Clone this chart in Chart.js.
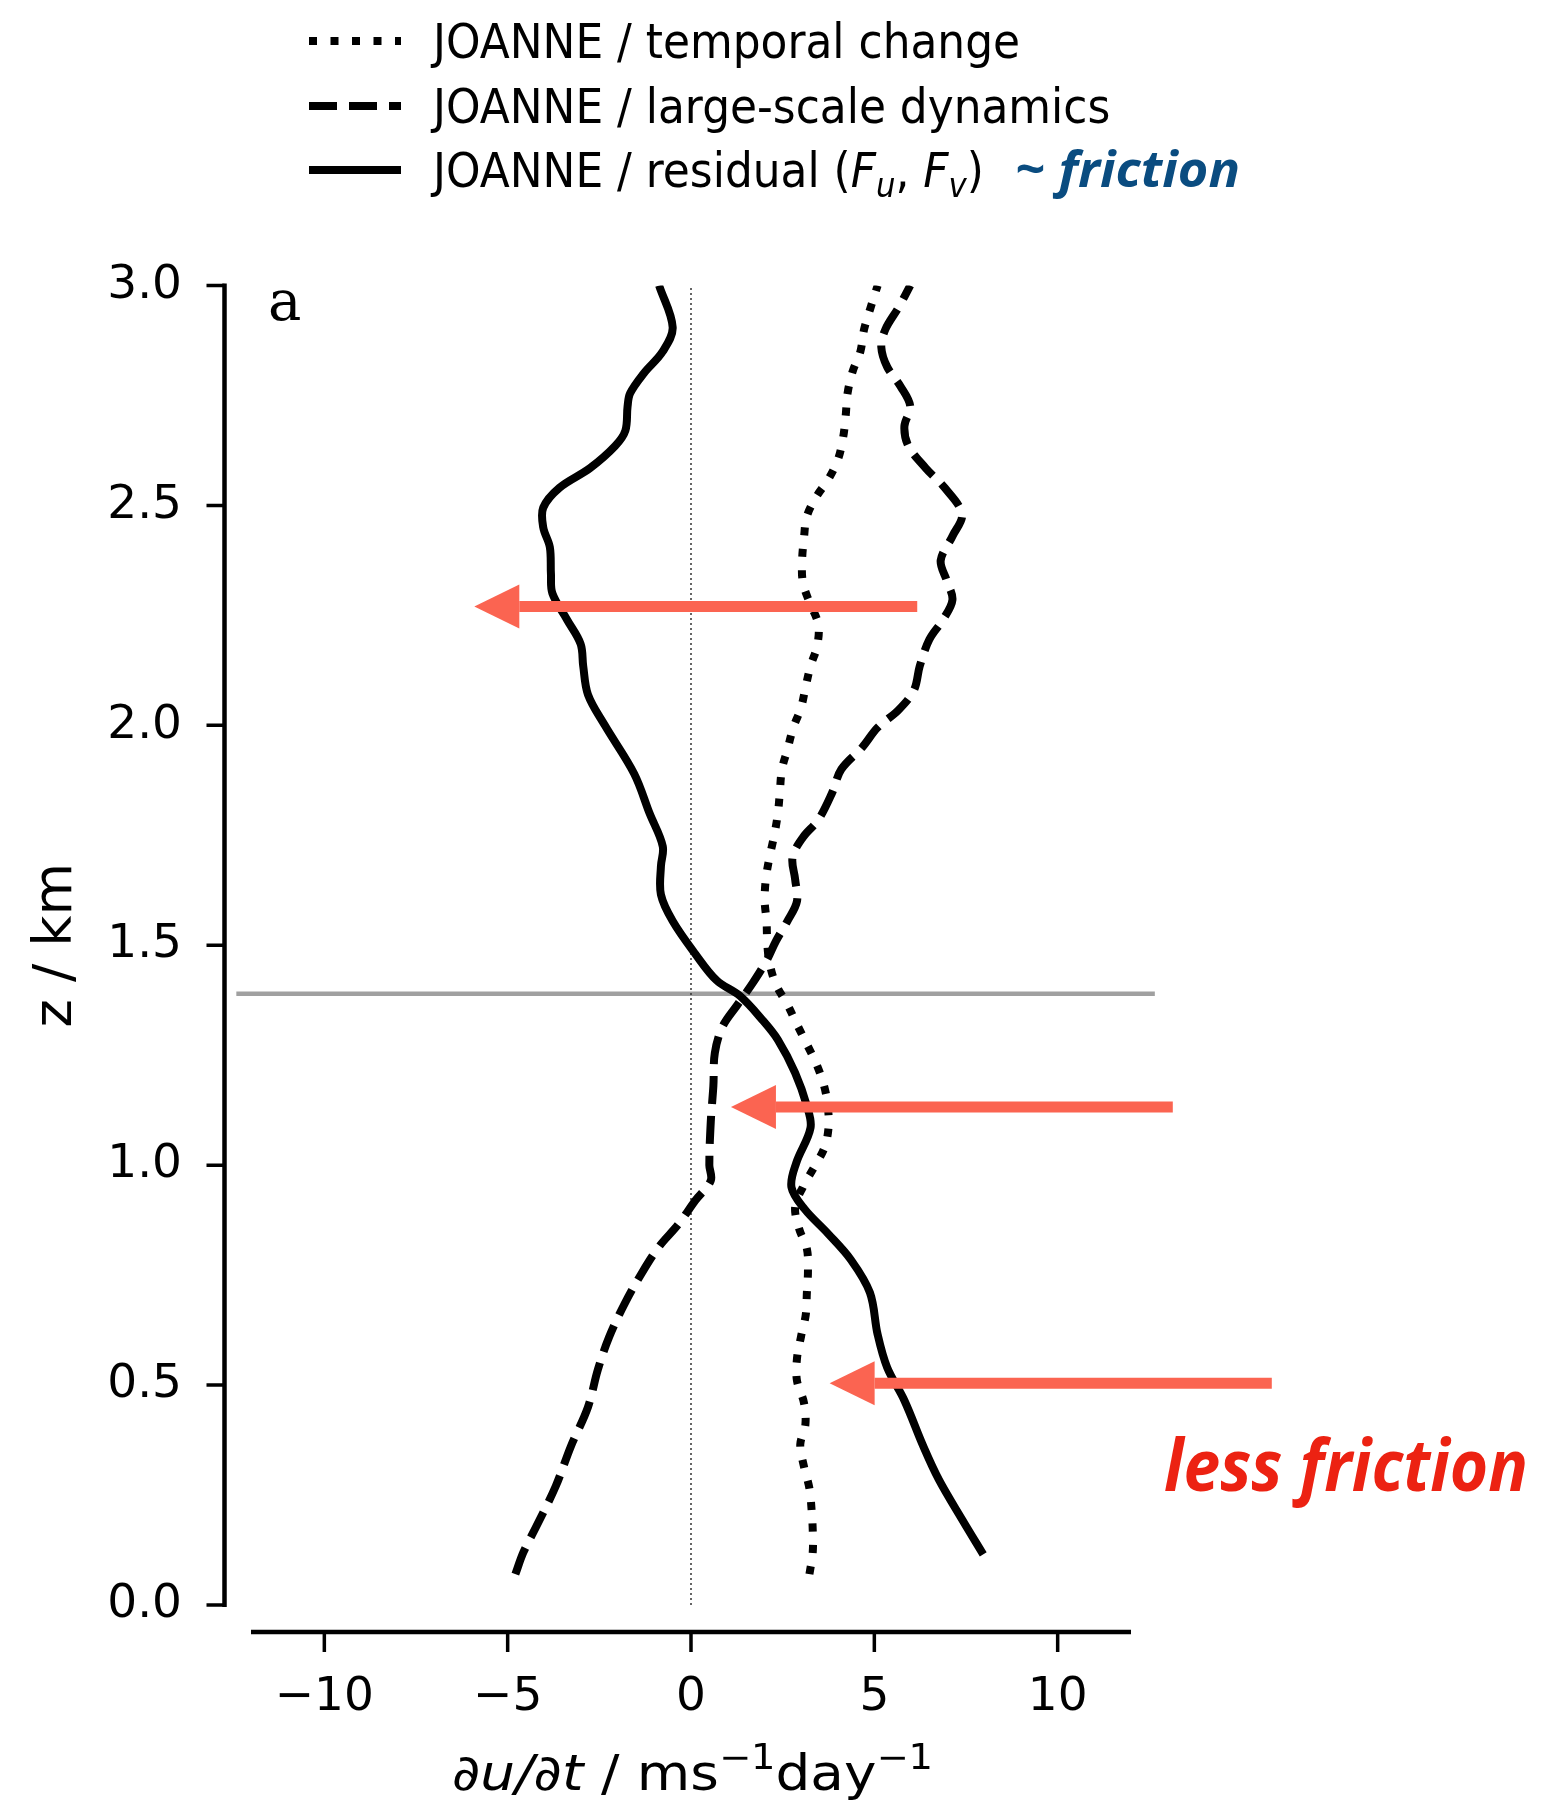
<!DOCTYPE html>
<html lang="en">
<head>
<meta charset="UTF-8">
<title>JOANNE momentum budget</title>
<script src="https://cdn.jsdelivr.net/npm/chart.js"></script>
<style>
  body { margin: 0; background: #ffffff; }
  .chart-box { position: relative; width: 1543px; height: 1804px; }
</style>
</head>
<body>
<div class="chart-box"><canvas id="budgetChart"></canvas></div>
<script>
// profiles, bottom to top: height z (km) and du/dt (m/s per day)
const zTemporal = [0.07, 0.12, 0.17, 0.215, 0.265, 0.315, 0.365, 0.41, 0.46, 0.51, 0.56, 0.61, 0.66, 0.71,
  0.76, 0.81, 0.855, 0.905, 0.95, 1.0, 1.04, 1.085, 1.135, 1.18, 1.23, 1.275, 1.32, 1.365, 1.41, 1.46, 1.505,
  1.555, 1.6, 1.65, 1.7, 1.75, 1.8, 1.845, 1.9, 1.945, 1.995, 2.04, 2.085, 2.135, 2.18, 2.23, 2.28, 2.325,
  2.375, 2.425, 2.475, 2.52, 2.56, 2.605, 2.655, 2.705, 2.755, 2.805, 2.85, 2.9, 2.945, 3.0];
const uTemporal = [3.23, 3.32, 3.32, 3.29, 3.23, 3.08, 2.98, 3.12, 3.08, 2.89, 2.89, 3.0, 3.13, 3.16,
  3.19, 3.16, 2.95, 2.84, 3.05, 3.39, 3.64, 3.75, 3.73, 3.63, 3.42, 3.16, 2.89, 2.63, 2.32, 2.14, 2.08,
  2.06, 2.01, 2.04, 2.14, 2.27, 2.37, 2.42, 2.48, 2.63, 2.79, 3.0, 3.12, 3.26, 3.44, 3.47, 3.23, 3.05,
  3.03, 3.08, 3.16, 3.42, 3.75, 4.01, 4.15, 4.22, 4.27, 4.41, 4.62, 4.72, 4.88, 5.09];

const zLargeScale = [0.07, 0.12, 0.18, 0.27, 0.36, 0.45, 0.535, 0.61, 0.685, 0.755, 0.815, 0.865, 0.92,
  0.965, 1.0, 1.1, 1.18, 1.255, 1.315, 1.365, 1.415, 1.465, 1.51, 1.555, 1.6, 1.65, 1.7, 1.745, 1.785,
  1.845, 1.9, 1.95, 1.995, 2.035, 2.08, 2.135, 2.195, 2.24, 2.285, 2.33, 2.375, 2.43, 2.48, 2.54, 2.585,
  2.635, 2.68, 2.725, 2.77, 2.815, 2.86, 2.9, 2.95, 3.0];
const uLargeScale = [-4.79, -4.57, -4.21, -3.69, -3.28, -2.81, -2.54, -2.23, -1.81, -1.34, -0.87, -0.35, 0.12,
  0.54, 0.5, 0.54, 0.61, 0.65, 0.86, 1.27, 1.69, 2.06, 2.32, 2.63, 2.89, 2.84, 2.77, 3.05, 3.47,
  3.84, 4.1, 4.67, 5.09, 5.66, 6.08, 6.24, 6.5, 6.87, 7.13, 6.97, 6.81, 7.13, 7.39, 6.92, 6.4,
  5.93, 5.82, 5.98, 5.72, 5.35, 5.19, 5.3, 5.66, 5.98];

const zResidual = [0.115, 0.195, 0.285, 0.36, 0.465, 0.54, 0.615, 0.71, 0.785, 0.845, 0.9, 0.95, 1.005,
  1.085, 1.135, 1.21, 1.285, 1.33, 1.385, 1.42, 1.48, 1.555, 1.615, 1.68, 1.725, 1.8, 1.89, 2.0, 2.07,
  2.135, 2.185, 2.24, 2.3, 2.345, 2.405, 2.45, 2.495, 2.54, 2.585, 2.635, 2.67, 2.725, 2.755, 2.8, 2.85,
  2.905, 3.0];
const uResidual = [7.97, 7.39, 6.76, 6.34, 5.82, 5.35, 5.09, 4.88, 4.36, 3.73, 3.1, 2.74, 2.87,
  3.26, 3.16, 2.84, 2.37, 1.95, 1.33, 0.7, 0.12, -0.5, -0.82, -0.82, -0.77, -1.13, -1.55, -2.35, -2.81,
  -2.94, -3.01, -3.38, -3.78, -3.82, -3.85, -4.03, -4.03, -3.59, -2.75, -2.07, -1.79, -1.73, -1.66, -1.29, -0.77,
  -0.5, -0.87];

const xTicks = [-10, -5, 0, 5, 10];
const yTicks = [0, 0.5, 1, 1.5, 2, 2.5, 3];

// annotations
const pblTop = 1.39;              // grey horizontal line (km)
const pblLineX = [-12.4, 12.65];
const arrowZ = [2.27, 1.132, 0.504];
const arrowFrom = [6.17, 13.14, 15.84];
const arrowTo = [-5.91, 1.09, 3.78];

const zip = (zs, us) => zs.map((z, i) => ({ x: us[i], y: z }));
const fmtX = v => (v < 0 ? '\u2212' + Math.abs(v) : String(v));

function runsWidth(ctx, runs, size) {
  let w = 0;
  runs.forEach(([text, style, k]) => {
    ctx.font = `${style} ${size * k}px "DejaVu Sans"`;
    w += ctx.measureText(text).width;
  });
  return w;
}

function drawRuns(ctx, runs, x, y, size, sx) {
  ctx.save();
  ctx.translate(x, y);
  ctx.scale(sx, 1);
  ctx.textBaseline = 'alphabetic';
  ctx.textAlign = 'left';
  let cx = 0;
  runs.forEach(([text, style, k, rise]) => {
    ctx.font = `${style} ${size * k}px "DejaVu Sans"`;
    ctx.fillText(text, cx, -rise * size);
    cx += ctx.measureText(text).width;
  });
  ctx.restore();
}

function drawFitted(ctx, text, font, color, x, y, width) {
  ctx.save();
  ctx.font = font;
  ctx.fillStyle = color;
  ctx.textBaseline = 'alphabetic';
  const w = ctx.measureText(text).width;
  ctx.translate(x, y);
  ctx.scale(width / w, 1);
  ctx.fillText(text, 0, 0);
  ctx.restore();
}

const figureExtras = {
  id: 'figureExtras',
  beforeDatasetsDraw(chart) {
    const { ctx, scales: { x, y } } = chart;
    ctx.save();
    // grey line at the top of the mixed layer
    ctx.strokeStyle = '#a0a0a0';
    ctx.lineWidth = 4.5;
    ctx.beginPath();
    ctx.moveTo(x.getPixelForValue(pblLineX[0]), y.getPixelForValue(pblTop));
    ctx.lineTo(x.getPixelForValue(pblLineX[1]), y.getPixelForValue(pblTop));
    ctx.stroke();
    // dotted zero line
    ctx.strokeStyle = '#333';
    ctx.lineWidth = 1.5;
    ctx.setLineDash([2, 3]);
    ctx.beginPath();
    ctx.moveTo(x.getPixelForValue(0), y.getPixelForValue(0));
    ctx.lineTo(x.getPixelForValue(0), y.getPixelForValue(3));
    ctx.stroke();
    ctx.restore();
  },
  afterDraw(chart) {
    const { ctx, chartArea, scales: { x, y } } = chart;
    ctx.save();

    // offset spines with ticks
    ctx.strokeStyle = '#000';
    ctx.lineWidth = 4.5;
    const spineX = chartArea.left - 26.5;
    const spineY = chartArea.bottom + 27;
    ctx.beginPath();
    ctx.moveTo(spineX, y.getPixelForValue(3) - 2);
    ctx.lineTo(spineX, y.getPixelForValue(0) + 2);
    ctx.moveTo(x.getPixelForValue(-12), spineY);
    ctx.lineTo(x.getPixelForValue(12), spineY);
    ctx.stroke();
    ctx.lineWidth = 3.5;
    ctx.beginPath();
    yTicks.forEach(v => {
      const py = y.getPixelForValue(v);
      ctx.moveTo(spineX - 18, py);
      ctx.lineTo(spineX, py);
    });
    xTicks.forEach(v => {
      const px = x.getPixelForValue(v);
      ctx.moveTo(px, spineY);
      ctx.lineTo(px, spineY + 20);
    });
    ctx.stroke();

    // red arrows
    ctx.fillStyle = '#fb6451';
    ctx.strokeStyle = '#fb6451';
    arrowZ.forEach((z, i) => {
      const py = y.getPixelForValue(z);
      const tail = x.getPixelForValue(arrowFrom[i]);
      const tip = x.getPixelForValue(arrowTo[i]);
      const base = tip + 45;
      ctx.lineWidth = 11;
      ctx.beginPath();
      ctx.moveTo(tail, py);
      ctx.lineTo(base, py);
      ctx.stroke();
      ctx.beginPath();
      ctx.moveTo(tip, py);
      ctx.lineTo(base, py - 22);
      ctx.lineTo(base, py + 22);
      ctx.closePath();
      ctx.fill();
    });

    // panel letter
    ctx.fillStyle = '#000';
    ctx.font = '56px "DejaVu Serif"';
    ctx.textBaseline = 'alphabetic';
    ctx.fillText('a', 268, 320);

    // x axis label with math
    const xRuns = [['\u2202u/\u2202t', 'italic', 1, 0], [' / ms', 'normal', 1, 0], ['\u22121', 'normal', 0.7, 0.42],
      ['day', 'normal', 1, 0], ['\u22121', 'normal', 0.7, 0.42]];
    const xw = runsWidth(ctx, xRuns, 50);
    drawRuns(ctx, xRuns, 452, 1790, 50, 481 / xw);

    // legend
    const rows = [41, 106, 170];
    const legendRuns = [
      [[chart.data.datasets[0].label, 'normal', 1, 0]],
      [[chart.data.datasets[1].label, 'normal', 1, 0]],
      [['JOANNE / residual (', 'normal', 1, 0], ['F', 'italic', 1, 0], ['u', 'italic', 0.7, -0.2],
        [', ', 'normal', 1, 0], ['F', 'italic', 1, 0], ['v', 'italic', 0.7, -0.2], [')', 'normal', 1, 0]]
    ];
    const lsx = 587 / runsWidth(ctx, legendRuns[0], 48);
    chart.data.datasets.forEach((ds, i) => {
      ctx.strokeStyle = ds.borderColor;
      ctx.lineWidth = ds.borderWidth;
      ctx.lineCap = 'butt';
      ctx.setLineDash(ds.borderDash || []);
      ctx.beginPath();
      ctx.moveTo(309, rows[i]);
      ctx.lineTo(401, rows[i]);
      ctx.stroke();
      ctx.setLineDash([]);
      ctx.fillStyle = '#000';
      drawRuns(ctx, legendRuns[i], 433, rows[i] + 17, 48, lsx);
    });

    // remarks
    drawFitted(ctx, '~ friction', 'italic bold 50px "Open Sans"', '#0a4c80', 1015, 187, 225);
    drawFitted(ctx, 'less friction', 'italic bold 72px "Open Sans"', '#ec2212', 1164, 1491, 364);
    ctx.restore();
  }
};

const ctx = document.getElementById('budgetChart').getContext('2d');
Chart.defaults.font.family = '"DejaVu Sans", sans-serif';
Chart.defaults.color = '#000';

const budgetChart = new Chart(ctx, {
  type: 'scatter',
  data: {
    datasets: [
      { label: 'JOANNE / temporal change', data: zip(zTemporal, uTemporal), borderColor: '#000',
        borderWidth: 8, borderDash: [8, 13.5], showLine: true, tension: 0.35, pointRadius: 0 },
      { label: 'JOANNE / large-scale dynamics', data: zip(zLargeScale, uLargeScale), borderColor: '#000',
        borderWidth: 8, borderDash: [28, 12], showLine: true, tension: 0.35, pointRadius: 0 },
      { label: 'JOANNE / residual (Fu, Fv)', data: zip(zResidual, uResidual), borderColor: '#000',
        borderWidth: 8, borderJoinStyle: 'round', showLine: true, tension: 0.35, pointRadius: 0 }
    ]
  },
  options: {
    responsive: true,
    maintainAspectRatio: false,
    animation: false,
    layout: { padding: { top: 285.5, right: 412, bottom: 0, left: 0 } },
    plugins: { legend: { display: false }, tooltip: { enabled: false } },
    scales: {
      x: {
        type: 'linear', position: 'bottom', min: -12, max: 12,
        grid: { display: false, drawTicks: false },
        border: { display: false },
        afterBuildTicks: s => { s.ticks = xTicks.map(v => ({ value: v })); },
        afterFit: s => { s.height = 199; },
        ticks: { padding: 65, autoSkip: false, maxRotation: 0, font: { size: 47 }, color: '#000', callback: v => fmtX(v) }
      },
      y: {
        type: 'linear', position: 'left', min: 0, max: 3,
        grid: { display: false, drawTicks: false },
        border: { display: false },
        afterBuildTicks: s => { s.ticks = yTicks.map(v => ({ value: v })); },
        afterFit: s => { s.width = 251; },
        ticks: { padding: 69, autoSkip: false, font: { size: 47 }, color: '#000', callback: v => v.toFixed(1) },
        title: { display: true, text: 'z / km', font: { size: 54 }, color: '#000', padding: { top: 25, bottom: 0 } }
      }
    }
  },
  plugins: [figureExtras]
});
</script>
</body>
</html>
